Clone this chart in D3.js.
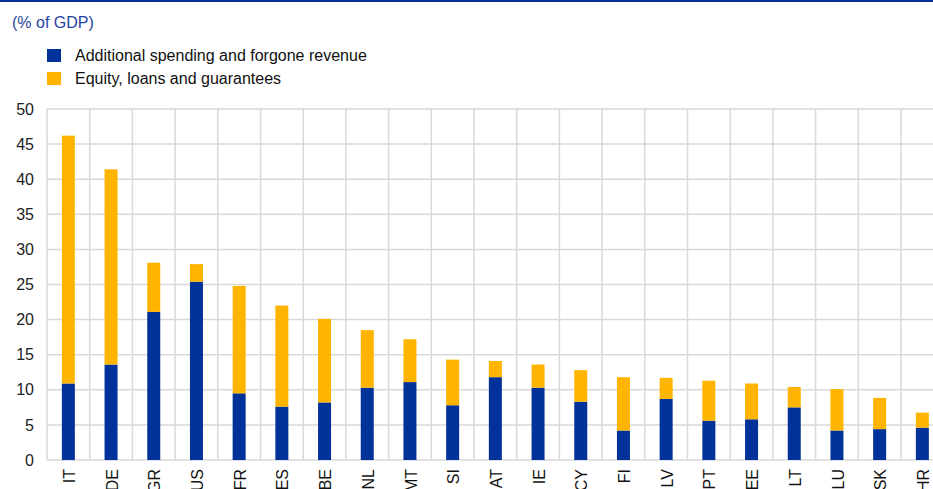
<!DOCTYPE html>
<html>
<head>
<meta charset="utf-8">
<script src="https://cdn.jsdelivr.net/npm/d3@7"></script>
<style>
  body { margin: 0; background: #fff; overflow: hidden; }
  svg { display: block; font-family: "Liberation Sans", Arial, sans-serif; }
</style>
</head>
<body>
<div id="viz"></div>
<script>
// countries, sorted by total support
var countries = ["IT","DE","GR","US","FR","ES","BE","NL","MT","SI","AT","IE","CY","FI","LV","PT","EE","LT","LU","SK","HR"];
// additional spending and forgone revenue
var spending = [10.9,13.6,21.1,25.4,9.5,7.6,8.2,10.3,11.1,7.8,11.8,10.3,8.3,4.2,8.7,5.6,5.8,7.5,4.2,4.4,4.6];
// equity, loans and guarantees
var equity = [35.3,27.8,7.0,2.5,15.3,14.4,11.9,8.2,6.1,6.5,2.3,3.3,4.5,7.6,3.0,5.7,5.1,2.9,5.9,4.45,2.15];
var yTicks = [0,5,10,15,20,25,30,35,40,45,50];
var seriesNames = ["Additional spending and forgone revenue", "Equity, loans and guarantees"];
var seriesColors = ["#003299", "#ffb400"];

var W = 933, H = 489;
var plotLeft = 47, plotTop = 109, plotBottom = 460;
var bandW = 42.7;

var svg = d3.select("#viz")
  .append("svg")
  .attr("width", W)
  .attr("height", H);

// top rule
svg.append("rect")
  .attr("x", 0).attr("y", 0)
  .attr("width", W).attr("height", 2)
  .attr("fill", "#003299");

svg.append("text")
  .attr("x", 12).attr("y", 28)
  .attr("font-size", 16)
  .attr("fill", "#1f44a0")
  .text("(% of GDP)");

// legend
var legend = svg.append("g");
seriesNames.forEach(function(name, i) {
  legend.append("rect")
    .attr("x", 47).attr("y", 49 + i * 23)
    .attr("width", 14).attr("height", 13)
    .attr("fill", seriesColors[i]);
  legend.append("text")
    .attr("x", 75).attr("y", 61 + i * 23)
    .attr("font-size", 16)
    .attr("fill", "#111")
    .text(name);
});

var x = d3.scaleBand()
  .domain(countries)
  .range([plotLeft, plotLeft + bandW * countries.length])
  .paddingInner(0).paddingOuter(0);

var y = d3.scaleLinear()
  .domain([0, 50])
  .range([plotBottom, plotTop]);

// grid
var grid = svg.append("g");
grid.selectAll("line.h")
  .data(yTicks)
  .enter().append("line")
  .attr("x1", plotLeft).attr("x2", x.range()[1])
  .attr("y1", function(d) { return y(d); })
  .attr("y2", function(d) { return y(d); })
  .attr("stroke", "#d9d9d9")
  .attr("stroke-width", 1.5);

grid.selectAll("line.v")
  .data(countries.map(function(c) { return x(c); }).concat([x.range()[1]]))
  .enter().append("line")
  .attr("x1", function(d) { return d; })
  .attr("x2", function(d) { return d; })
  .attr("y1", plotTop).attr("y2", plotBottom)
  .attr("stroke", "#d9d9d9")
  .attr("stroke-width", 1.5);

// y axis labels
var yAxis = d3.axisLeft(y).tickValues(yTicks).tickSize(0).tickPadding(13);
var gy = svg.append("g")
  .attr("transform", "translate(" + plotLeft + ",0)")
  .call(yAxis);
gy.select(".domain").remove();
gy.selectAll("text")
  .attr("font-size", 16)
  .attr("font-family", "Liberation Sans, Arial, sans-serif")
  .attr("fill", "#222");

// stacked bars
var rows = countries.map(function(c, i) {
  return { country: c, spending: spending[i], equity: equity[i] };
});
var stack = d3.stack().keys(["spending", "equity"])(rows);
var barW = 13;

svg.selectAll("g.series")
  .data(stack)
  .enter().append("g")
  .attr("fill", function(d, i) { return seriesColors[i]; })
  .selectAll("rect")
  .data(function(d) { return d; })
  .enter().append("rect")
  .attr("x", function(d) { return x(d.data.country) + x.bandwidth() / 2 - barW / 2; })
  .attr("width", barW)
  .attr("y", function(d) { return y(d[1]); })
  .attr("height", function(d) { return y(d[0]) - y(d[1]); });

// x axis labels, rotated
var xAxis = d3.axisBottom(x).tickSize(0).tickPadding(0);
var gx = svg.append("g")
  .attr("transform", "translate(0," + plotBottom + ")")
  .call(xAxis);
gx.select(".domain").remove();
gx.selectAll("text")
  .attr("font-size", 16)
  .attr("font-family", "Liberation Sans, Arial, sans-serif")
  .attr("fill", "#111")
  .attr("text-anchor", "end")
  .attr("dy", "0.35em")
  .attr("transform", "translate(1,9) rotate(-90)");
</script>
</body>
</html>
